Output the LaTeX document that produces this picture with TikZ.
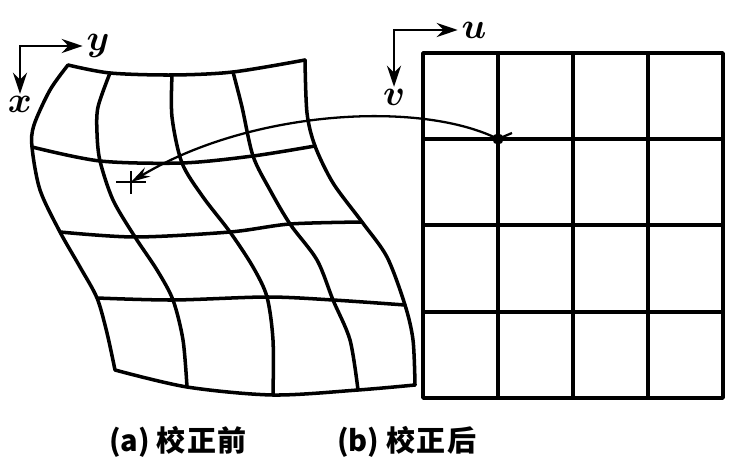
\documentclass[tikz,border=0pt]{standalone}
\usepackage{fontspec}
\newfontfamily\cjk{Noto Sans CJK SC}
\usetikzlibrary{arrows.meta}
\tikzset{
  warp/.style={line width=2pt,line join=round,line cap=round},
  axis/.style={line width=1.5pt,{Stealth[length=12pt,width=8pt]}-{Stealth[length=12pt,width=8pt]},shorten <=2pt,shorten >=1pt},
  axlab/.style={inner sep=0pt,font=\fontsize{20}{24}\selectfont\boldmath},
  caption/.style={font=\cjk\bfseries\fontsize{16.5}{20}\selectfont},
  conn/.style={line width=1.3pt,-{Stealth[length=11pt,width=6pt]}},
}
\begin{document}
\begin{tikzpicture}[x=0.02cm,y=-0.02cm]
\useasboundingbox (0,0) rectangle (749,475);
% axes
\node[axlab] (ylab) at (98,46) {$y$};
\node[axlab] (xlab) at (20,104) {$x$};
\draw[axis] (ylab.west) -| (xlab.north);
\node[axlab] (ulab) at (474,30) {$u$};
\node[axlab] (vlab) at (394,97) {$v$};
\draw[axis] (ulab.west) -| (vlab.north);
% (a) warped grid
\draw[warp] plot[smooth] coordinates {(68,65) (110,73) (172,75) (233,72) (305,60)};
\draw[warp] plot[smooth] coordinates {(32,147) (100,161) (182,163) (253,156) (315,146)};
\draw[warp] plot[smooth] coordinates {(60,232) (135,237) (230,232) (290,224) (362,222)};
\draw[warp] plot[smooth] coordinates {(97,298) (173,300) (267,297) (333,300) (405,305)};
\draw[warp] plot[smooth] coordinates {(115,370) (187,387) (273,395) (358,390) (415,385)};
\draw[warp] plot[smooth] coordinates {(68,65) (50,90) (34,125) (32,147) (40,190) (60,232) (80,267) (97,298) (107,333) (115,370)};
\draw[warp] plot[smooth] coordinates {(110,73) (98,107) (97,133) (100,161) (113,200) (135,237) (157,270) (173,300) (183,340) (187,387)};
\draw[warp] plot[smooth] coordinates {(172,75) (172,117) (182,163) (203,197) (230,232) (253,267) (267,297) (273,340) (273,395)};
\draw[warp] plot[smooth] coordinates {(233,72) (242,107) (253,156) (270,190) (290,224) (317,260) (333,300) (350,340) (358,390)};
\draw[warp] plot[smooth] coordinates {(305,60) (307,113) (315,146) (333,183) (362,222) (387,257) (405,305) (413,340) (415,385)};
% (b) regular grid
\draw[warp] (423,53) rectangle (723,398);
\foreach \u in {498,573,648} \draw[warp] (\u,53) -- (\u,398);
\foreach \v in {139,225,312} \draw[warp] (423,\v) -- (723,\v);
% mapped point
\coordinate (src) at (498,139);
\coordinate (tgt) at (131,182);
\fill (src) circle (3.2pt);
\draw[line width=1.3pt] (src) -- (512,133);
\draw[line width=1.2pt] (tgt) ++(-15,0) -- ++(30,0);
\draw[line width=1.2pt] (tgt) ++(0,-11) -- ++(0,23);
\draw[conn] (src) .. controls (420,100) and (250,110) .. (tgt);
% captions
\node[caption] (capa) at (178,442) {(a) 校\hspace{1pt}正\hspace{1pt}前};
\node[caption] (capb) at (407,442) {(b) 校\hspace{1pt}正\hspace{1pt}后};
\end{tikzpicture}
\end{document}
